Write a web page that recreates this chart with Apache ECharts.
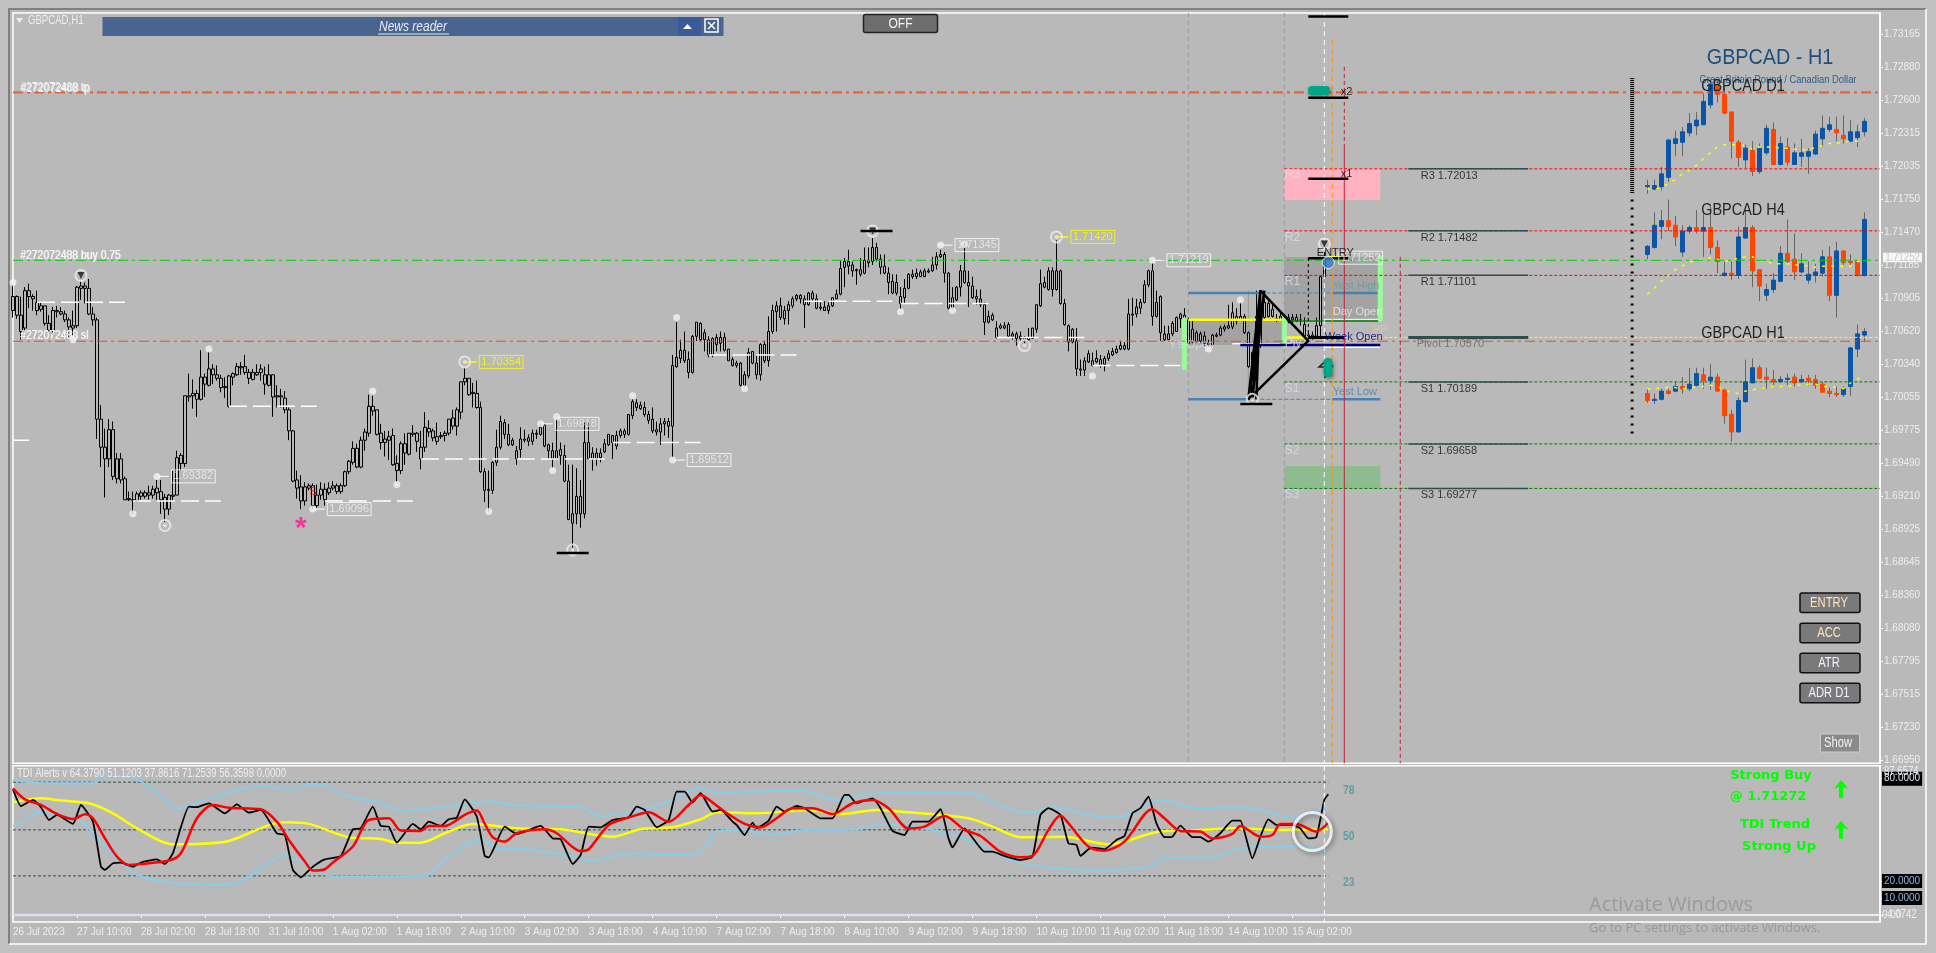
<!DOCTYPE html>
<html><head><meta charset="utf-8"><style>html,body{margin:0;padding:0;background:#c0c0c0}#c{width:1936px;height:953px}</style>
<script src="https://cdn.jsdelivr.net/npm/echarts@6/dist/echarts.min.js"></script></head><body><div id="c"></div><script>
// Prices are stored as pips above 1.0000 (7092 = 1.7092)
const bodyTop=[7092,7092,7076,7097,7097,7092,7087,7084,7084,7069,
7080,7080,7079,7077,7072,7067,7100,7101,7101,7099,
7077,7072,6987,6963,6978,6978,6953,6953,6936,6919,
6918,6923,6924,6924,6924,6927,6928,6925,6920,6922,
6922,6954,6956,7007,7007,7009,7009,7023,7023,7030,
7030,7025,7022,7015,7024,7026,7032,7032,7032,7027,
7027,7027,7030,7025,7025,7025,7007,7007,7005,6995,
6977,6935,6929,6929,6930,6930,6922,6927,6927,6928,
6930,6930,6930,6942,6951,6962,6962,6969,6976,6998,
6998,6995,6975,6970,6972,6973,6949,6966,6966,6975,
6975,6975,6963,6980,6979,6977,6972,6973,6975,6987,
6988,6995,7019,7022,7022,7010,7009,6997,6942,6927,
6950,6963,6985,6984,6974,6969,6960,6970,6970,6971,
6975,6975,6980,6982,6965,6960,6960,6961,6956,6934,
6906,6921,6921,6967,6967,6958,6958,6958,6966,6974,
6973,6973,6977,6977,6991,7002,7001,6999,6997,6991,
6987,6978,6983,6985,6985,7033,7040,7046,7046,7038,
7058,7070,7069,7061,7055,7056,7057,7057,7057,7047,
7038,7035,7035,7025,7044,7045,7035,7051,7051,7062,
7080,7084,7084,7080,7085,7090,7093,7093,7090,7095,
7095,7090,7083,7083,7084,7091,7094,7116,7122,7122,
7119,7115,7115,7123,7123,7134,7134,7124,7118,7112,
7105,7104,7092,7099,7111,7111,7112,7113,7114,7114,
7119,7126,7128,7128,7112,7091,7100,7114,7114,7104,
7101,7092,7090,7085,7075,7076,7065,7067,7067,7068,
7060,7060,7058,7057,7057,7065,7085,7103,7104,7114,
7114,7114,7114,7086,7067,7064,7054,7030,7037,7043,
7037,7039,7038,7039,7043,7045,7047,7050,7050,7077,
7077,7083,7087,7102,7114,7114,7087,7092,7060,7060,
7069,7074,7077,7076,7072,7064,7061,7060,7058,7052,
7059,7059,7065,7066,7067,7078,7075,7075,7075,7061,
7044,7075,7075,7087,7086,7081,7073,7075,7073,7074,
7074,7074,7072,7068,7059,7059,7067,7109,7125];
const bodyBottom=[7080,7076,7062,7065,7092,7090,7080,7081,7069,7063,
7063,7079,7077,7072,7066,7065,7067,7099,7099,7077,
7072,6987,6963,6953,6953,6938,6936,6935,6918,6918,
6918,6917,6921,6921,6922,6922,6924,6918,6910,6910,
6921,6922,6949,6949,7006,7007,7004,7004,7017,7016,
7025,7022,7014,7014,6998,7023,7025,7031,7027,7022,
7021,7025,7027,7017,7016,7006,7006,7006,6995,6977,
6934,6928,6917,6917,6928,6913,6913,6922,6918,6924,
6928,6925,6925,6930,6942,6950,6946,6946,6969,6975,
6994,6974,6967,6967,6969,6948,6943,6943,6958,6957,
6974,6968,6953,6963,6976,6971,6968,6972,6973,6975,
6981,6981,6993,7019,7008,7009,6997,6942,6926,6926,
6926,6950,6963,6974,6965,6965,6953,6961,6969,6968,
6968,6974,6974,6964,6960,6953,6953,6956,6934,6901,
6898,6906,6906,6906,6953,6953,6953,6954,6959,6965,
6967,6964,6973,6974,6974,6990,6997,6996,6991,6986,
6977,6976,6976,6983,6981,6981,7032,7039,7037,7027,
7027,7058,7055,7055,7042,7042,7051,7052,7046,7037,
7033,7033,7016,7016,7024,7035,7025,7025,7037,7037,
7062,7079,7074,7073,7080,7084,7090,7090,7085,7085,
7090,7082,7082,7080,7080,7084,7090,7094,7117,7118,
7114,7114,7111,7112,7121,7122,7124,7117,7112,7104,
7095,7095,7086,7091,7099,7109,7109,7109,7109,7113,
7114,7119,7126,7112,7082,7082,7089,7100,7104,7101,
7091,7090,7085,7070,7070,7072,7057,7065,7065,7058,
7058,7056,7056,7055,7055,7056,7064,7084,7100,7098,
7098,7098,7086,7068,7053,7053,7030,7029,7029,7036,
7033,7036,7033,7034,7039,7042,7044,7047,7047,7047,
7076,7077,7082,7087,7102,7075,7075,7061,7055,7055,
7060,7062,7073,7071,7052,7053,7053,7054,7052,7051,
7051,7058,7059,7064,7065,7066,7071,7072,7061,7032,
7008,7044,7050,7074,7075,7075,7072,7072,7072,7071,
7072,7071,7072,7058,7057,7056,7058,7067,7109];
const highs=[7102,7093,7092,7100,7103,7094,7097,7087,7084,7076,
7083,7084,7083,7080,7074,7080,7101,7105,7104,7107,
7083,7074,6999,6979,6987,6985,6958,6958,6938,6925,
6925,6925,6926,6926,6930,6930,6935,6935,6923,6923,
6943,6960,6958,7007,7026,7021,7012,7046,7026,7045,
7034,7033,7025,7023,7025,7027,7035,7036,7042,7030,
7030,7034,7034,7032,7034,7025,7016,7013,7011,6997,
6978,6943,6939,6933,6932,6932,6931,6933,6932,6933,
6934,6932,6932,6943,6952,6968,6966,6972,6979,7008,
7007,6995,6983,6977,6977,6979,6956,6968,6975,6975,
6982,6976,6977,6993,6986,6979,6984,6976,6977,6987,
6995,6997,7019,7031,7022,7018,7020,7002,6945,6943,
6951,6978,6990,6987,6983,6971,6964,6980,6978,6974,
6978,6978,6983,6983,6966,6967,6990,6967,6965,6948,
6948,6945,6935,6984,6984,6963,6962,6962,6970,6974,
6973,6977,6979,6979,6991,7004,7004,7002,7002,6994,
6997,6985,6988,6988,6988,7042,7070,7055,7062,7045,
7059,7070,7070,7064,7058,7057,7060,7062,7061,7047,
7040,7037,7036,7028,7048,7045,7041,7052,7054,7075,
7085,7088,7091,7084,7088,7092,7094,7094,7093,7096,
7097,7094,7087,7088,7087,7091,7098,7123,7125,7132,
7122,7116,7125,7134,7134,7142,7138,7128,7128,7117,
7111,7111,7100,7107,7112,7115,7116,7115,7116,7116,
7126,7130,7132,7130,7113,7100,7101,7119,7138,7114,
7109,7098,7098,7087,7080,7078,7071,7069,7070,7070,
7062,7062,7062,7058,7065,7065,7085,7115,7109,7117,
7117,7140,7115,7090,7068,7065,7065,7038,7040,7046,
7044,7046,7042,7041,7046,7048,7050,7054,7053,7090,
7091,7090,7090,7106,7115,7121,7097,7093,7067,7067,
7071,7075,7078,7082,7074,7072,7063,7062,7062,7055,
7060,7061,7067,7068,7085,7087,7082,7087,7077,7062,
7045,7097,7097,7090,7088,7085,7077,7078,7077,7077,
7077,7077,7077,7074,7061,7062,7074,7109,7132];
const lows=[7074,7073,7055,7062,7082,7080,7076,7079,7067,7060,
7059,7074,7076,7070,7057,7059,7065,7089,7086,7076,
7067,6970,6946,6920,6946,6935,6932,6932,6918,6917,
6906,6916,6918,6919,6918,6919,6918,6906,6899,6905,
6917,6922,6943,6946,7002,6996,6989,7003,7006,7015,
7017,7020,7010,7005,6997,7016,7024,7025,7025,7017,
7020,7024,7020,7008,7015,6989,6997,6997,6992,6969,
6933,6919,6910,6913,6926,6910,6911,6918,6913,6922,
6926,6923,6923,6929,6940,6948,6945,6945,6960,6972,
6990,6973,6961,6955,6952,6947,6933,6940,6948,6956,
6972,6959,6944,6959,6972,6968,6965,6970,6968,6973,
6978,6973,6987,7016,7007,6997,6996,6941,6916,6908,
6923,6947,6961,6970,6964,6964,6948,6954,6967,6964,
6965,6970,6973,6963,6953,6945,6953,6948,6933,6901,
6877,6897,6894,6902,6953,6943,6947,6950,6958,6964,
6953,6961,6971,6971,6973,6987,6994,6995,6989,6983,
6975,6973,6965,6973,6971,6954,7031,7035,7035,7022,
7026,7054,7054,7045,7040,7040,7045,7045,7045,7037,
7032,7031,7015,7015,7022,7034,7021,7020,7035,7032,
7060,7062,7072,7068,7068,7082,7088,7086,7065,7084,
7088,7081,7080,7080,7077,7083,7090,7093,7100,7111,
7109,7102,7109,7111,7117,7119,7122,7111,7111,7094,
7094,7093,7081,7086,7098,7107,7107,7109,7109,7112,
7113,7115,7125,7104,7081,7081,7088,7092,7103,7083,
7090,7085,7083,7059,7069,7071,7056,7064,7064,7057,
7055,7050,7054,7052,7052,7056,7061,7083,7099,7097,
7092,7097,7085,7067,7045,7052,7024,7024,7024,7035,
7032,7035,7031,7028,7037,7041,7043,7046,7046,7046,
7067,7074,7077,7086,7100,7067,7074,7054,7054,7055,
7058,7062,7065,7069,7052,7052,7051,7051,7050,7049,
7050,7057,7058,7062,7064,7064,7068,7071,7060,7031,
7004,7042,7048,7072,7074,7074,7070,7072,7071,7069,
7069,7070,7067,7057,7055,7055,7056,7057,7108];

// Mini panels (same pip units)
const d1Open=[7186,7184,7186,7194,7223,7224,7232,7238,7239,7256,7273,7265,7250,7224,7209,7217,7199,7215,7235,7205,7220,7205,7212,7212,7214,7227,7235,7235,7230,7225,7228,7233];
const d1Close=[7187,7187,7197,7226,7227,7233,7240,7243,7259,7274,7265,7249,7225,7211,7219,7199,7219,7236,7205,7223,7207,7215,7215,7216,7231,7236,7239,7232,7227,7233,7233,7242];
const d1Low=[7180,7183,7183,7190,7212,7212,7229,7230,7239,7253,7258,7248,7210,7203,7202,7195,7197,7213,7205,7204,7204,7205,7203,7197,7213,7220,7233,7225,7223,7224,7220,7229];
const d1High=[7192,7192,7203,7227,7234,7237,7249,7250,7266,7277,7277,7272,7250,7226,7222,7225,7223,7239,7241,7229,7228,7223,7227,7219,7234,7247,7246,7246,7247,7243,7239,7245];
const d1Ma=[7184,7184,7185,7189,7192,7197,7200,7204,7210,7215,7220,7222,7222,7222,7221,7218,7220,7220,7220,7219,7219,7218,7218,7217,7220,7221,7223,7223,7224,7225,7225,7227];
const h4Open=[7128,7134,7152,7157,7153,7130,7148,7151,7148,7151,7134,7110,7112,7110,7142,7151,7115,7093,7098,7105,7129,7124,7113,7106,7110,7112,7126,7093,7131,7122,7122,7110];
const h4Close=[7135,7153,7157,7152,7143,7148,7151,7148,7151,7134,7122,7112,7110,7143,7151,7114,7101,7098,7106,7129,7122,7113,7120,7111,7113,7126,7093,7131,7121,7121,7110,7158];
const h4Low=[7124,7133,7141,7148,7135,7126,7146,7146,7126,7128,7112,7109,7106,7107,7142,7100,7088,7088,7095,7105,7120,7106,7112,7103,7104,7109,7088,7074,7119,7118,7109,7109];
const h4High=[7136,7164,7166,7175,7161,7153,7153,7166,7163,7169,7140,7122,7122,7152,7166,7153,7115,7103,7112,7135,7158,7146,7129,7122,7120,7132,7135,7139,7131,7128,7123,7164];
const h4Ma=[7094,7099,7105,7110,7115,7118,7121,7123,7124,7125,7124,7122,7123,7125,7126,7126,7123,7122,7120,7120,7120,7119,7119,7118,7117,7118,7118,7118,7118,7118,7122,7122];
const h1Open=[7009,7003,7004,7011,7011,7015,7013,7016,7025,7020,7023,7012,6991,6976,7002,7018,7031,7023,7021,7019,7021,7023,7019,7022,7021,7017,7011,7009,7008,7015,7047,7059];
const h1Close=[7003,7004,7011,7009,7015,7013,7017,7026,7020,7023,7011,6990,6976,7003,7019,7031,7022,7021,7019,7021,7022,7018,7021,7020,7016,7010,7009,7008,7013,7048,7060,7062];
const h1Low=[7001,7000,7003,7008,7010,7009,7011,7015,7013,7012,7011,6983,6968,6976,7001,7018,7021,7013,7016,7018,7016,7015,7018,7016,7013,7010,7006,7006,7006,7007,7040,7053];
const h1High=[7013,7009,7013,7013,7019,7023,7031,7031,7031,7034,7026,7013,6995,7006,7038,7039,7033,7031,7029,7024,7026,7026,7025,7025,7025,7019,7014,7015,7015,7049,7068,7065];
const h1Ma=[7013,7013,7014,7014,7014,7013,7014,7014,7015,7016,7015,7012,7010,7009,7011,7012,7013,7014,7015,7015,7015,7016,7016,7017,7017,7015,7015,7014,7013,7018,7021,7025];

// TDI readings
const blackIdx=[0,2,5,7,9,11,15,17,20,22,23,25,27,30,32,36,38,40,44,46,49,53,56,59,62,66,68,70,72,75,78,82,85,87,90,92,94,96,100,102,104,107,109,111,113,116,118,119,123,126,128,132,135,137,140,142,144,147,150,154,156,158,161,164,166,168,170,172,175,177,180,181,183,185,186,189,191,193,196,198,202,205,208,209,211,215,217,220,223,225,229,232,234,235,238,243,245,248,252,255,257,259,262,264,266,267,269,270,273,276,278,280,282,284,286,288,290,292,295,297,299,302,305,307,310,312,314,316,320,322,324,326,328,329];
const blackVal=[73.8,64,67.6,63.3,55.8,58.8,53.5,64.6,54.8,28.4,26.5,30.4,30.8,28.4,30.8,32.7,30,36.3,63.6,63.3,65.6,59.7,65,60.1,61.7,48,47,26.5,22.2,28.4,32.7,34.7,50.3,50.9,63.6,52.3,51.9,42.5,53.5,50.3,54.8,52.3,56.2,57.2,67.9,57.8,34.7,33.9,51.9,47.6,49,52.3,45,44.5,30,35.3,51.9,51.5,55.8,57.4,63.6,61.7,51.5,55.8,72.5,72.5,66,71.5,60.7,61.7,54.8,52.9,47,54.3,50.9,55.4,63.6,60.7,64,62.7,56.8,56.8,70.5,70.5,65.6,68.5,62.7,49.4,47,54.8,54.8,62.1,45,39.8,50.9,37.2,37.2,34.7,32.3,34.3,58.8,62.7,58.8,42.1,41.2,34.7,38.6,39.6,38.6,44.1,46.4,59.7,62.7,69.5,53.9,45.7,46,52.5,45.7,45.7,43.1,48,55.4,55.4,33.3,46,56.2,52.9,52.9,50.9,45,45.7,67.6,70.9];
const redIdx=[0,3,7,11,15,18,20,23,26,29,32,39,42,46,50,54,62,66,69,73,75,78,80,85,89,94,97,102,104,108,113,116,118,120,123,126,133,136,142,144,149,154,159,164,169,172,175,178,183,187,191,195,200,205,210,215,219,224,228,233,238,242,247,252,255,259,262,264,269,273,278,285,288,292,297,300,305,307,312,315,317,321,326,329];
const redVal=[74.4,67.9,64.6,59.3,56.4,59.2,56.8,45,34.3,29.4,30,32,36.3,56.8,64.6,63,62.1,54.8,44.1,31.4,26.1,26.9,30.8,40.2,55.8,56.8,49.6,49.4,52.3,52.3,58.8,61.3,53.5,45.7,43.1,48,50.3,48,37.6,38.6,52.9,57.2,60.3,54.8,64.6,70.5,66,60.7,53.5,51.5,56.8,62.7,62.7,59.3,65.6,67.6,62.7,50.9,51.9,58.2,50,46.4,37.2,33.9,34.7,50,58.4,53.9,40.2,37.8,43.1,62.1,56.8,49.4,49,45,47.6,52.3,46,47,53.5,53.5,49,54.3];
const yellowIdx=[0,7,12,19,25,31,40,46,54,63,68,74,84,92,96,102,108,115,126,137,150,157,165,172,176,186,199,207,216,224,239,245,252,263,274,287,295,306,317,329];
const yellowVal=[66.2,68.5,67.2,65.6,59.7,50.9,41.5,41.7,43.5,51.9,54.4,53.5,45.7,44.7,42.5,42.5,48,53.5,50.9,50.3,46,50.5,51.5,56.2,60.3,59.7,61.7,59.3,61.7,60.3,56.8,51.9,45.7,46,41.5,49,49.6,50.9,49.9,50.3];
const upperIdx=[0,9,20,22,29,36,41,49,57,63,69,76,85,91,98,108,120,125,142,147,155,163,172,176,185,197,206,214,224,238,250,255,260,272,278,287,296,308,319,329];
const upperVal=[79.3,77.3,77.3,81.3,81.3,71.5,62.7,68.5,73.8,75.8,73.8,76.9,68.9,66.6,61.3,63.6,66.6,64.6,63.6,58.2,60.7,65.6,74.4,71.9,72.5,73.4,67.6,71.1,71.9,71.9,61.7,60.3,63.3,57.8,58.2,67.6,62.7,63.3,57.8,63.6];
const lowerIdx=[0,3,7,11,17,21,30,38,50,55,61,68,73,80,103,109,117,121,127,141,145,155,166,172,176,183,189,199,210,218,232,240,252,272,284,288,300,307,319,329];
const lowerVal=[52.3,55.8,60.7,58.8,54.8,45.7,24.9,19.6,17.7,18.1,25.5,35.3,30.4,22.6,23,34.3,44.5,39.2,38.8,34.3,32,36.3,35.3,37.2,49,50,47,50,50,53.5,49,43.1,30.4,26.5,28.4,33.3,33.9,39.2,40.6,37.8];
const tdiLevels=[78,50,23];

// Ticks and annotations
const tickLabels=["26 Jul 2023","27 Jul 10:00","28 Jul 02:00","28 Jul 18:00","31 Jul 10:00","1 Aug 02:00","1 Aug 18:00","2 Aug 10:00","3 Aug 02:00","3 Aug 18:00","4 Aug 10:00","7 Aug 02:00","7 Aug 18:00","8 Aug 10:00","9 Aug 02:00","9 Aug 18:00","10 Aug 10:00","11 Aug 02:00","11 Aug 18:00","14 Aug 10:00","15 Aug 02:00"];
const priceTicks=[1.73165,1.72880,1.72600,1.72315,1.72035,1.71750,1.71470,1.71185,1.70905,1.70620,1.70340,1.70055,1.69775,1.69490,1.69210,1.68925,1.68645,1.68360,1.68080,1.67795,1.67515,1.67230,1.66950];
const swingDots=[[0,7104],[15,7055],[30,6906],[36,6938],[49,7047],[75,6910],[89.5,7011],[96,6931],[119,6908],[132,6983],[135,6943],[136,6989],[155,7007],[165,6952],[166,7074],[183,7013],[222,7079],[232,7136],[235,7080],[238,7137],[270,7024],[285,7123],[299,7047],[307,7089]];
const swingRings=[[17,7110],[38,6896],[113,7036],[140,6875],[215,7148],[253,7050],[261,7143],[310,7004],[328,7137]];
const priceTags=[[36,6938,"1.69382"],[75,6910,"1.69096"],[132,6983,"1.69818"],[165,6952,"1.69512"],[232,7136,"1.71345"],[285,7123,"1.71219"],[328,7125.2,"1.71252"]];
const yellowTags=[[113,7036,"1.70354"],[261,7143,"1.71420"]];
const srSegments=[[0,4,6969],[6,28,7087],[30,52,6917],[54,76,6998],[78,100,6917],[102,124,6953],[126,148,6953],[150,172,6967],[174,196,7042],[198,220,7088],[222,244,7086],[246,268,7057],[270,292,7033]];
const pivotNames=["R3 1.72013","R2 1.71482","R1 1.71101","Pivot 1.70570","S1 1.70189","S2 1.69658","S3 1.69277"];
const pivotPips=[7201.3,7148.2,7110.1,7057.0,7018.9,6965.8,6927.7];
const pivotTextPips=[7195,7142,7104.6,7051.4,7013,6960,6922];
const zoneList=[[318,342,7201.3,7174.7,"#ffb3c1"],[318,342,6947,6927.7,"#8fbc8f"],[318,342,7125.9,7072,"#a3a3a3"],[294,318,7072,7050.5,"#a3a3a3"]];

const YTOP=7334.7,YBOT=6692.4,LAST=467;
const FF='"Liberation Sans",sans-serif';
const px=p=>1+p/10000;
const cats=[];for(let i=0;i<=LAST;i++)cats.push(i%16===0&&i/16<tickLabels.length?tickLabels[i/16]:"");
const showTick=i=>i%16===0&&i/16<tickLabels.length;

function seg(pts,color,width,dash,z,extra){return Object.assign({type:"line",xAxisIndex:0,yAxisIndex:0,symbol:"none",silent:true,animation:false,z:z||3,
 data:pts.map(p=>p?[p[0],px(p[1])]:[null,null]),lineStyle:{color:color,width:width,type:dash||"solid",cap:"butt"}},extra||{});}
function note(list,opt){return {type:"scatter",xAxisIndex:0,yAxisIndex:0,symbolSize:1,itemStyle:{color:"transparent"},silent:true,animation:false,z:12,
 data:list.map(n=>({value:[n[0],px(n[1])],label:{show:true,formatter:n[2],position:opt.position||"right",distance:opt.distance||0,color:n[3]||opt.color,fontSize:opt.size||11,fontFamily:opt.font||FF,fontWeight:opt.weight||"normal",
 borderColor:opt.border,borderWidth:opt.border?1:0,padding:opt.border?[1,2]:0}}))};}

const DD=[10,4,3,4];
const series=[];
series.push({type:"custom",xAxisIndex:0,yAxisIndex:0,silent:true,animation:false,z:1,data:zoneList.map((z,i)=>[i]),clip:true,
 renderItem:(p,api)=>{const z=zoneList[p.dataIndex],a=api.coord([z[0],px(z[2])]),b=api.coord([z[1],px(z[3])]);
 return {type:"rect",shape:{x:a[0],y:a[1],width:b[0]-a[0],height:b[1]-a[1]},style:{fill:z[4]}};}});
series.push({type:"candlestick",xAxisIndex:0,yAxisIndex:0,barWidth:3,silent:true,animation:false,z:5,
 data:bodyTop.map((t,i)=>[px(bodyBottom[i]),px(t),px(lows[i]),px(highs[i])]),
 itemStyle:{color:"#b9b9b9",color0:"#b9b9b9",borderColor:"#000",borderColor0:"#000",borderWidth:1}});
function mini(o,c,l,h,ma){
 series.push({type:"candlestick",xAxisIndex:2,yAxisIndex:2,barWidth:1,silent:true,animation:false,z:4,
  data:o.map((v,i)=>[px(v),px(c[i]),px(l[i]),px(h[i])]),itemStyle:{color:"#666",color0:"#666",borderColor:"#666",borderColor0:"#666",borderWidth:1}});
 series.push({type:"candlestick",xAxisIndex:2,yAxisIndex:2,barWidth:5,silent:true,animation:false,z:4,
  data:o.map((v,i)=>[px(v),px(c[i]),px(Math.min(v,c[i])),px(Math.max(v,c[i]))]),itemStyle:{color:"#0a55a8",color0:"#ff4500",borderColor:"#0a55a8",borderColor0:"#ff4500",borderWidth:1}});
 series.push({type:"line",xAxisIndex:2,yAxisIndex:2,symbol:"none",silent:true,animation:false,z:6,data:ma.map(px),lineStyle:{color:"#ffff00",width:1.5,type:[3,6]}});
}
mini(d1Open,d1Close,d1Low,d1High,d1Ma);mini(h4Open,h4Close,h4Low,h4High,h4Ma);mini(h1Open,h1Close,h1Low,h1High,h1Ma);
[7267.1,7266.3].forEach(p=>series.push(seg([[0,p],[LAST,p]],"#e8501e",1,DD,7)));
series.push(seg([[0,7123],[LAST,7123]],"#00d000",1,DD,7));
series.push(seg([[0,7053.7],[LAST,7053.7]],"#e8501e",1,DD,7));
srSegments.forEach(s=>series.push(seg([[s[0],s[2]],[s[1],s[2]]],"#fff",1.5,[18,6],6)));
pivotPips.forEach((p,i)=>{
 const col=i<3?"#ff0000":i===3?"#ffff00":"#008000";
 series.push(seg([[318,p],[LAST,p]],col,1,[3,2],7));
 series.push(seg([[349,p],[379,p]],"#2f4f4f",i===3?3:1.5,"solid",7));
});
[294,318].forEach(x=>series.push(seg([[x,YTOP],[x,YBOT]],"#999",1,[4,4],3)));
series.push(seg([[330,7311.6],[330,YBOT]],"#ff9000",1,[5,4],8));
series.push(seg([[333,7288.6],[333,7219.2]],"#c0203a",1,[4,3],8));
series.push(seg([[333,7219.2],[333,YBOT]],"#c0203a",1,"solid",8));
series.push(seg([[347,7126],[347,YBOT]],"#c0203a",1,[4,3],8));
series.push(seg([[328,YTOP],[328,YBOT]],"#fff",1,[5,4],8));
series.push(seg([[405,7279],[405,7180.7]],"#000",4,[1,1],7));
series.push(seg([[405,7175],[405,6973.8]],"#000",3,[2,6],7));
series.push(seg([[309,7097],[309,7004]],"#999",1,"solid",4));
series.push(seg([[294,7095],[312,7095]],"#4682b4",2.5,"solid",6));
series.push(seg([[312,7095],[330,7095]],"#4682b4",1,[4,2],6));
series.push(seg([[330,7095],[342,7095]],"#4682b4",2.5,"solid",6));
series.push(seg([[294,7004],[309,7004]],"#4682b4",2.5,"solid",6));
series.push(seg([[309,7004],[330,7004]],"#4682b4",1,[4,2],6));
series.push(seg([[330,7004],[342,7004]],"#4682b4",2.5,"solid",6));
series.push(seg([[294,7072],[318,7072]],"#ffff00",2.5,"solid",6));
series.push(seg([[318,7057],[328,7057]],"#ffff00",2.5,"solid",6));
series.push(seg([[318,7071],[342,7071]],"#008000",1.5,"solid",6));
series.push(seg([[328,7072.5],[342,7072.5]],"#fff",1,"solid",6));
series.push(seg([[305,7051.5],[317,7051.5]],"#fff",1.5,"solid",6));
series.push(seg([[328,7048.5],[342,7048.5]],"#fff",1.5,"solid",6));
series.push(seg([[307,7050.5],[342,7050.5]],"#000080",2.5,"solid",7));
[[293,7072,7031],[318,7072,7050],[342,7125,7072]].forEach(b=>series.push(seg([[b[0],b[1]],[b[0],b[2]]],"#98fb98",5,"solid",6,{lineStyle:{color:"#98fb98",width:5,cap:"round"}})));
series.push(seg([[309,7004],[312,7097],[324,7054],[309,7004],[313,7097],[310,7004],[312,7097],[311,7004]],"#000",2.5,"solid",9));
series.push(seg([[324,7057],[333,7057]],"#000",3,"solid",9));
series.push(seg([[324,7125],[324,7054]],"#000",1,[3,3],9));
[[136,144,6872.5],[212,220,7148],[307,315,7000],[324,334,7331.6],[324,334,7262.2],[324,334,7192.9],[324,334,7124.8]].forEach(b=>series.push(seg([[b[0],b[2]],[b[1],b[2]]],"#000",2.5,"solid",11)));
series.push(seg([[329,7126],[332,7126]],"#ffff00",2,"solid",10));
priceTags.forEach(t=>series.push(seg([[t[0],t[1]],[t[0]+3,t[1]]],"#fff",1,"solid",9)));
yellowTags.forEach(t=>series.push(seg([[t[0],t[1]],[t[0]+3,t[1]]],"#ffff00",1.5,"solid",9)));
series.push({type:"scatter",xAxisIndex:0,yAxisIndex:0,silent:true,animation:false,z:10,symbolSize:7,data:swingDots.map(d=>[d[0],px(d[1])]),itemStyle:{color:"#f2f2f2"}});
series.push({type:"scatter",xAxisIndex:0,yAxisIndex:0,silent:true,animation:false,z:10,symbolSize:11,data:swingRings.map(d=>[d[0],px(d[1])]),itemStyle:{color:"transparent",borderColor:"#eee",borderWidth:2}});
series.push({type:"scatter",xAxisIndex:0,yAxisIndex:0,silent:true,animation:false,z:10,symbolSize:4,data:swingRings.map(d=>[d[0],px(d[1])]),itemStyle:{color:"#e8e8e8"}});
series.push({type:"scatter",xAxisIndex:0,yAxisIndex:0,silent:true,animation:false,z:11,symbol:"triangle",symbolRotate:180,symbolSize:7,data:[[17,7110],[215,7148],[328,7137]].map(d=>[d[0],px(d[1])]),itemStyle:{color:"#111"}});
series.push({type:"scatter",xAxisIndex:0,yAxisIndex:0,silent:true,animation:false,z:11,symbolSize:12,data:[[329,7121]].map(d=>[d[0],px(d[1])]),itemStyle:{color:"#2f7fd0",borderColor:"#fff",borderWidth:1}});
series.push(note(priceTags,{color:"#f0f0f0",border:"#fff",distance:14,size:11}));
series.push(note(yellowTags,{color:"#ffff00",border:"#ffff00",distance:14,size:11}));
series.push(note(pivotNames.map((n,i)=>[i===3?351:352,pivotTextPips[i],n,i===3?"#666":"#111"]),{size:11}));
series.push(note([[318,7196,"R3"],[318,7142,"R2"],[318,7105,"R1"],[318,7052,"Piv"],[318,7013,"S1"],[318,6960,"S2"],[318,6922,"S3"]],{color:"#dcdcf0",size:12}));
series.push(note([[330,7101,"Yest High","#5f9ea0"],[330,7010.5,"Yest Low","#4682b4"],[330,7079,"Day Open","#f0f0f0"],[328,7057.5,"Week Open","#000080"],[340,7063,"PP","#e8cba8"],[289,7050.5,"Y's Open","#d8d8ee"],[326,7129.3,"ENTRY","#000"],[332,7267,"x2","#000"],[332,7197,"x1","#000"],[74,6925,"S","#f00"]],{size:11}));
series.push(note([[72,6893,"*"]],{color:"#ff1493",size:30,weight:"bold",position:"inside",font:"Liberation Sans"}));
const tl=(xs,ys,color,width,smooth,z,dash)=>({type:"line",xAxisIndex:1,yAxisIndex:1,symbol:"none",silent:true,animation:false,smooth:smooth,z:z,data:xs.map((x,i)=>[x,ys[i]]),lineStyle:{color:color,width:width,type:dash||"solid"}});
tdiLevels.forEach(v=>series.push(tl([0,329],[v,v],"#2f4f4f",1,false,3,[3,2])));
series.push(tl([0,329],[0,0],"#dcdcf5",2.5,false,3));
series.push(tl(upperIdx,upperVal,"#87ceeb",2,0.3,4));
series.push(tl(lowerIdx,lowerVal,"#87ceeb",2,0.3,4));
series.push(tl(yellowIdx,yellowVal,"#ffff00",2.5,0.3,5));
series.push(tl(blackIdx,blackVal,"#000",1.8,0.15,6));
series.push(tl(redIdx,redVal,"#ff0000",2.5,0.3,7));
series.push(tl([328,328],[87.6,-4],"#fff",1,false,8,[5,4]));
series.push({type:"scatter",xAxisIndex:1,yAxisIndex:1,silent:true,animation:false,z:9,symbolSize:38,data:[[325,49]],itemStyle:{color:"transparent",borderColor:"#fff",borderWidth:3,shadowBlur:5,shadowColor:"rgba(0,0,0,.5)",shadowOffsetX:2,shadowOffsetY:2}});

const g=[];
const rect=(x,y,w,h,fill,stroke,lw,r,z,extra)=>g.push(Object.assign({type:"rect",silent:true,z:z==null?100:z,shape:{x,y,width:w,height:h,r:r||0},style:{fill,stroke,lineWidth:lw||0}},extra||{}));
const text=(x,y,t,fill,size,o)=>{o=o||{};const narrow=o.font?1:0.8;g.push({type:"text",silent:true,z:o.z||101,x:x,y:y,scaleX:o.scaleX||narrow,style:{text:t,fill,font:(o.style||"")+" "+(o.weight||"")+" "+size+"px "+(o.font||FF),textAlign:o.align||"left",textVerticalAlign:"middle",opacity:o.opacity==null?1:o.opacity}});};
rect(9,9,1917,935,"#b9b9b9",null,0,0,-20);
g.push({type:"polyline",silent:true,z:-19,shape:{points:[[9,944],[9,9],[1926,9]]},style:{stroke:"#808080",lineWidth:2,fill:null}});
g.push({type:"polyline",silent:true,z:-19,shape:{points:[[9,944],[1926,944],[1926,9]]},style:{stroke:"#fff",lineWidth:1.5,fill:null}});
rect(102.5,17,621,19,"#4a6490");
rect(678,17,23,19,"#3b5a9a");
g.push({type:"polygon",silent:true,z:101,shape:{points:[[683,29],[692,29],[687.5,24]]},style:{fill:"#fff"}});
rect(705,19,13,13,"#4a6490","#fff",1.5);
g.push({type:"polyline",silent:true,z:101,shape:{points:[[708,22],[715,29]]},style:{stroke:"#fff",lineWidth:1.5}});
g.push({type:"polyline",silent:true,z:101,shape:{points:[[715,22],[708,29]]},style:{stroke:"#fff",lineWidth:1.5}});
text(413,26.5,"News reader","#e8ecf6",15,{align:"center",style:"italic"});
g.push({type:"polyline",silent:true,z:101,shape:{points:[[378,34],[449,34]]},style:{stroke:"#e8ecf6",lineWidth:1}});
rect(863.5,14.5,74,18,"#6e6e6e","#222",1.5,2);
text(900.5,24,"OFF","#f4f4f4",15,{align:"center"});
g.push({type:"polygon",silent:true,z:101,shape:{points:[[16,18],[23,18],[19.5,23]]},style:{fill:"#eee"}});
text(28,21,"GBPCAD,H1","#eee",12);
[["#272072488 tp",20,87],["#272072408 tp",21,88.5],["#272072408 buy 0.75",20,255],["#272072488 buy 0.75",20.5,255],["#272072408 sl",20,335.5],["#272072488 sl",20.5,335.5]].forEach(a=>text(a[1],a[2],a[0],"#f4f4f4",13));
text(1770,58,"GBPCAD - H1","#1f4e79",22,{align:"center",scaleX:0.9});
text(1778,80,"Great Britain Pound / Canadian Dollar","#2a5d8a",11,{align:"center",scaleX:0.85});
text(1743,86,"GBPCAD D1","#222",17,{align:"center",scaleX:0.85});
text(1743,210,"GBPCAD H4","#222",17,{align:"center",scaleX:0.85});
text(1743,333,"GBPCAD H1","#222",17,{align:"center",scaleX:0.85});
[["ENTRY",593,"#ffe4c4"],["ACC",623.3,"#ffe4c4"],["ATR",653.3,"#f0f4ff"],["ADR D1",683.3,"#f0f4ff"]].forEach(b=>{
 rect(1800,b[1],60,19.5,"#7a7a7a","#111",1.5,2);text(1829,b[1]+10,b[0],b[2],14,{align:"center"});});
rect(1820.5,734,39,18,"#8a8a8a","#ccc",1);text(1838,743.5,"Show","#f4f4f4",14,{align:"center"});
const gf='bold',GF='"DejaVu Sans",sans-serif';
text(1771,775.7,"Strong Buy","#00ff00",13,{align:"center",weight:gf,font:GF});
text(1768,797,"@ 1.71272","#00ff00",13,{align:"center",weight:gf,font:GF});
text(1775,825,"TDI Trend","#00ff00",13,{align:"center",weight:gf,font:GF});
text(1779,847,"Strong Up","#00ff00",13,{align:"center",weight:gf,font:GF});
[780,820.7].forEach(y=>g.push({type:"polygon",silent:true,z:101,shape:{points:[[1841,y],[1848.5,y+9],[1843,y+7],[1843,y+18],[1839,y+18],[1839,y+7],[1834,y+9]]},style:{fill:"#00ff00"}}));
text(1343,790,"78","#5f9ea0",13,{weight:"bold"});text(1343,836.7,"50","#5f9ea0",13,{weight:"bold"});text(1343,882.7,"23","#5f9ea0",13,{weight:"bold"});
text(17,774,"TDI Alerts v 64.3790 51.1203 37.8616 71.2539 56.3598 0.0000","#eee",12,{});
rect(1883,252.7,39,9.5,"#f6f6f6");text(1902.5,257.5,"1.71252","#c8c8c8",12,{align:"center",z:102});
text(1884,772,"87.6574","#eee",12,{z:90});
text(1884,915,"-4.0742","#eee",12);
text(1589,905,"Activate Windows","#777",20,{opacity:.45,font:'"Open Sans",sans-serif'});
text(1589,928,"Go to PC settings to activate Windows.","#777",13,{opacity:.5,font:'"Open Sans",sans-serif'});
g.push({type:"polyline",silent:true,z:101,shape:{points:[[1325,378],[1325,367],[1319,367],[1328,359],[1333,367]]},style:{stroke:"#222",lineWidth:1.5,fill:null}});
rect(1323.5,358,9,19,"#00a68a",null,0,4,102,{style:{fill:"#00a68a",shadowBlur:4,shadowColor:"rgba(0,0,0,.4)",shadowOffsetX:1,shadowOffsetY:2}});
rect(1308,86,22,9,"#00a68a",null,0,4,102,{style:{fill:"#00a68a",shadowBlur:4,shadowColor:"rgba(0,0,0,.4)",shadowOffsetX:1,shadowOffsetY:2}});

const axisFont={color:"#eeeeee",fontSize:10,fontFamily:FF};
const option={animation:false,backgroundColor:"#c0c0c0",graphic:g,series:series,
 grid:[{left:13,top:13,width:1867,height:750.3,show:true,borderColor:"#fff",borderWidth:1.5,backgroundColor:"transparent"},
       {left:13,top:765.7,width:1867,height:156.3,show:true,borderColor:"#fff",borderWidth:1.5,backgroundColor:"transparent"},
       {left:1643.8,top:13,width:224,height:750.3}],
 xAxis:[{type:"category",gridIndex:0,data:cats,boundaryGap:false,show:false},
        {type:"category",gridIndex:1,data:cats,boundaryGap:false,axisLine:{lineStyle:{color:"#fff",width:1.5}},
          axisTick:{interval:showTick,length:3,lineStyle:{color:"#fff"}},axisLabel:Object.assign({interval:showTick,align:"left",margin:5,hideOverlap:false,showMinLabel:true,showMaxLabel:true},axisFont),splitLine:{show:false}},
        {type:"category",gridIndex:2,data:d1Open.map((_,i)=>i),show:false,boundaryGap:true}],
 yAxis:[{type:"value",gridIndex:0,position:"right",min:px(YBOT),max:px(YTOP),scale:true,splitLine:{show:false},axisLine:{show:true,lineStyle:{color:"#fff",width:1.5}},
          axisTick:{show:true,length:3,customValues:priceTicks,lineStyle:{color:"#fff"}},axisLabel:Object.assign({customValues:priceTicks,margin:4,formatter:v=>v.toFixed(5),showMinLabel:true,showMaxLabel:true},axisFont)},
        {type:"value",gridIndex:1,position:"right",min:-4.0742,max:87.6574,splitLine:{show:false},axisLine:{show:true,lineStyle:{color:"#fff",width:1.5}},
          axisTick:{show:true,length:3,customValues:[80,20,10,0],lineStyle:{color:"#fff"}},
          axisLabel:{customValues:[80,20,10,0],margin:2,fontFamily:FF,fontSize:10,color:"#eee",formatter:v=>v===80?"{w|80.0000}":v===0?"0.00":"{b|"+v.toFixed(4)+"}",
            rich:{w:{backgroundColor:"#000",color:"#dfe8f4",padding:[2,2],fontFamily:FF,fontSize:10},b:{backgroundColor:"#000",color:"#8fb8e0",padding:[2,2],fontFamily:FF,fontSize:10}}}},
        {type:"value",gridIndex:2,min:px(YBOT),max:px(YTOP),show:false,scale:true}]
};
echarts.init(document.getElementById("c"),null,{renderer:"canvas",width:1936,height:953}).setOption(option);
</script></body></html>
